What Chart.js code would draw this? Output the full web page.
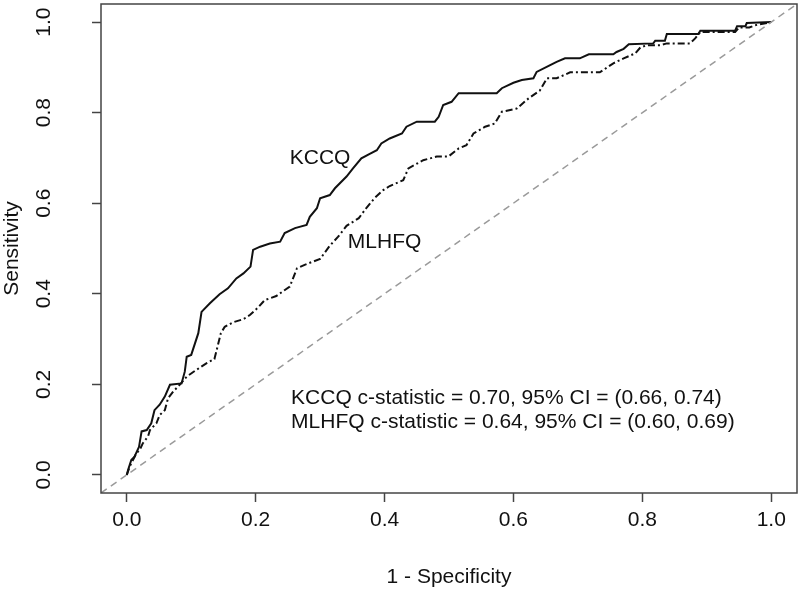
<!DOCTYPE html>
<html>
<head>
<meta charset="utf-8">
<script src="https://cdn.jsdelivr.net/npm/chart.js@4/dist/chart.umd.min.js"></script>
<style>
  html, body { margin: 0; padding: 0; background: #fff; }
  #wrap { width: 800px; height: 600px; }
</style>
</head>
<body>
<div id="wrap"><canvas id="roc" width="800" height="600"></canvas></div>
<script>
// ROC 曲線資料 (1 - Specificity, Sensitivity)
const kccqFpr = [0, 0.002, 0.007, 0.012, 0.019, 0.023, 0.031, 0.038, 0.043, 0.051, 0.059, 0.067, 0.085, 0.09, 0.093, 0.1, 0.111, 0.116, 0.129, 0.144, 0.157, 0.17, 0.181, 0.192, 0.196, 0.207, 0.222, 0.238, 0.245, 0.261, 0.279, 0.284, 0.295, 0.3, 0.315, 0.323, 0.341, 0.351, 0.364, 0.377, 0.388, 0.395, 0.408, 0.427, 0.434, 0.45, 0.478, 0.484, 0.491, 0.504, 0.515, 0.574, 0.582, 0.6, 0.613, 0.631, 0.636, 0.657, 0.667, 0.68, 0.703, 0.717, 0.755, 0.76, 0.771, 0.779, 0.817, 0.82, 0.835, 0.838, 0.887, 0.89, 0.944, 0.947, 0.96, 0.962, 1];
const kccqTpr = [0, 0.011, 0.033, 0.04, 0.062, 0.096, 0.099, 0.114, 0.143, 0.155, 0.173, 0.199, 0.202, 0.228, 0.261, 0.265, 0.313, 0.36, 0.379, 0.399, 0.412, 0.434, 0.445, 0.46, 0.497, 0.504, 0.511, 0.515, 0.534, 0.545, 0.552, 0.57, 0.589, 0.611, 0.618, 0.633, 0.659, 0.677, 0.699, 0.709, 0.717, 0.732, 0.743, 0.754, 0.769, 0.78, 0.78, 0.791, 0.817, 0.824, 0.843, 0.843, 0.854, 0.866, 0.872, 0.876, 0.89, 0.905, 0.912, 0.92, 0.92, 0.929, 0.929, 0.934, 0.941, 0.951, 0.953, 0.959, 0.959, 0.974, 0.974, 0.981, 0.981, 0.991, 0.991, 0.998, 1];

const mlhfqFpr = [0, 0.005, 0.015, 0.02, 0.025, 0.033, 0.036, 0.046, 0.051, 0.059, 0.064, 0.072, 0.082, 0.093, 0.108, 0.124, 0.136, 0.142, 0.146, 0.152, 0.165, 0.181, 0.191, 0.204, 0.214, 0.232, 0.253, 0.264, 0.276, 0.3, 0.315, 0.328, 0.341, 0.36, 0.372, 0.385, 0.398, 0.408, 0.429, 0.437, 0.46, 0.481, 0.499, 0.515, 0.527, 0.538, 0.556, 0.571, 0.582, 0.605, 0.623, 0.641, 0.652, 0.667, 0.688, 0.734, 0.755, 0.771, 0.789, 0.797, 0.807, 0.828, 0.838, 0.874, 0.882, 0.89, 0.944, 0.95, 0.966, 0.975, 1];
const mlhfqTpr = [0, 0.02, 0.048, 0.055, 0.07, 0.085, 0.099, 0.114, 0.132, 0.143, 0.169, 0.184, 0.199, 0.217, 0.232, 0.247, 0.256, 0.29, 0.313, 0.327, 0.337, 0.344, 0.353, 0.37, 0.386, 0.395, 0.416, 0.456, 0.464, 0.477, 0.506, 0.526, 0.55, 0.567, 0.59, 0.612, 0.629, 0.638, 0.651, 0.677, 0.695, 0.703, 0.703, 0.721, 0.728, 0.754, 0.769, 0.776, 0.802, 0.809, 0.831, 0.849, 0.876, 0.876, 0.889, 0.889, 0.909, 0.92, 0.931, 0.944, 0.949, 0.949, 0.953, 0.953, 0.964, 0.978, 0.978, 0.988, 0.988, 0.993, 1];

// 對角參考線
const diagX = [-0.04, 1.04];
const diagY = [-0.04, 1.04];

// 刻度
const tickValues = [0, 0.2, 0.4, 0.6, 0.8, 1.0];

// 註解文字
const curveLabels = ['KCCQ', 'MLHFQ'];
const statLines = [
    'KCCQ c-statistic = 0.70, 95% CI = (0.66, 0.74)',
    'MLHFQ c-statistic = 0.64, 95% CI = (0.60, 0.69)'
];

const FONT = "'Liberation Sans', Arial, Helvetica, sans-serif";

function toPoints(xs, ys) {
    return xs.map((x, i) => ({ x: x, y: ys[i] }));
}

// 外框與文字
const boxAndText = {
    id: 'boxAndText',
    afterDatasetsDraw(chart) {
        const { ctx, chartArea } = chart;
        const xs = chart.scales.x, ys = chart.scales.y;
        ctx.save();
        ctx.strokeStyle = '#444';
        ctx.lineWidth = 1.5;
        ctx.strokeRect(chartArea.left, chartArea.top, chartArea.right - chartArea.left, chartArea.bottom - chartArea.top);

        ctx.fillStyle = '#111';
        ctx.font = '21px ' + FONT;
        ctx.textAlign = 'center';
        ctx.textBaseline = 'middle';
        ctx.fillText(curveLabels[0], xs.getPixelForValue(0.3), ys.getPixelForValue(0.7));
        ctx.fillText(curveLabels[1], xs.getPixelForValue(0.4), ys.getPixelForValue(0.515));

        ctx.textAlign = 'left';
        ctx.textBaseline = 'alphabetic';
        ctx.fillText(statLines[0], xs.getPixelForValue(0.255), ys.getPixelForValue(0.157));
        ctx.fillText(statLines[1], xs.getPixelForValue(0.255), ys.getPixelForValue(0.104));
        ctx.restore();
    }
};

const axisTicks = {
    font: { family: FONT, size: 21 },
    color: '#111',
    autoSkip: false,
    callback: v => v.toFixed(1)
};
const axisGrid = {
    display: true,
    drawOnChartArea: false,
    drawTicks: true,
    tickLength: 9,
    tickColor: '#444',
    tickWidth: 1.5
};

new Chart(document.getElementById('roc'), {
    type: 'scatter',
    data: {
        datasets: [
            {
                label: 'diag',
                data: toPoints(diagX, diagY),
                showLine: true,
                borderColor: '#9a9a9a',
                borderWidth: 1.5,
                borderDash: [7, 5],
                pointRadius: 0
            },
            {
                label: curveLabels[1],
                data: toPoints(mlhfqFpr, mlhfqTpr),
                showLine: true,
                borderColor: '#111',
                borderWidth: 2,
                borderDash: [7, 3, 2, 3],
                pointRadius: 0
            },
            {
                label: curveLabels[0],
                data: toPoints(kccqFpr, kccqTpr),
                showLine: true,
                borderColor: '#111',
                borderWidth: 2,
                pointRadius: 0
            }
        ]
    },
    options: {
        responsive: false,
        animation: false,
        devicePixelRatio: 1,
        layout: { padding: { top: 4, right: 3, left: 0, bottom: 0 } },
        plugins: {
            legend: { display: false },
            tooltip: { enabled: false }
        },
        scales: {
            x: {
                type: 'linear',
                min: -0.04,
                max: 1.04,
                afterBuildTicks: s => { s.ticks = tickValues.map(v => ({ value: v })); },
                afterFit: s => { s.height = 107; s.paddingLeft = 0; s.paddingRight = 0; },
                ticks: Object.assign({}, axisTicks, { padding: 6, minRotation: 0, maxRotation: 0 }),
                grid: axisGrid,
                border: { display: false },
                title: {
                    display: true,
                    text: '1 - Specificity',
                    font: { family: FONT, size: 21 },
                    color: '#111',
                    padding: { top: 0, bottom: 10 }
                }
            },
            y: {
                type: 'linear',
                min: -0.04,
                max: 1.04,
                afterBuildTicks: s => { s.ticks = tickValues.map(v => ({ value: v })); },
                afterFit: s => { s.width = 101; s.paddingTop = 0; s.paddingBottom = 0; },
                ticks: Object.assign({}, axisTicks, { padding: 33, minRotation: 90, maxRotation: 90, crossAlign: 'center' }),
                grid: axisGrid,
                border: { display: false },
                title: {
                    display: true,
                    text: 'Sensitivity',
                    font: { family: FONT, size: 21 },
                    color: '#111',
                    padding: { top: 0, bottom: 0 }
                }
            }
        }
    },
    plugins: [boxAndText]
});
</script>
</body>
</html>
